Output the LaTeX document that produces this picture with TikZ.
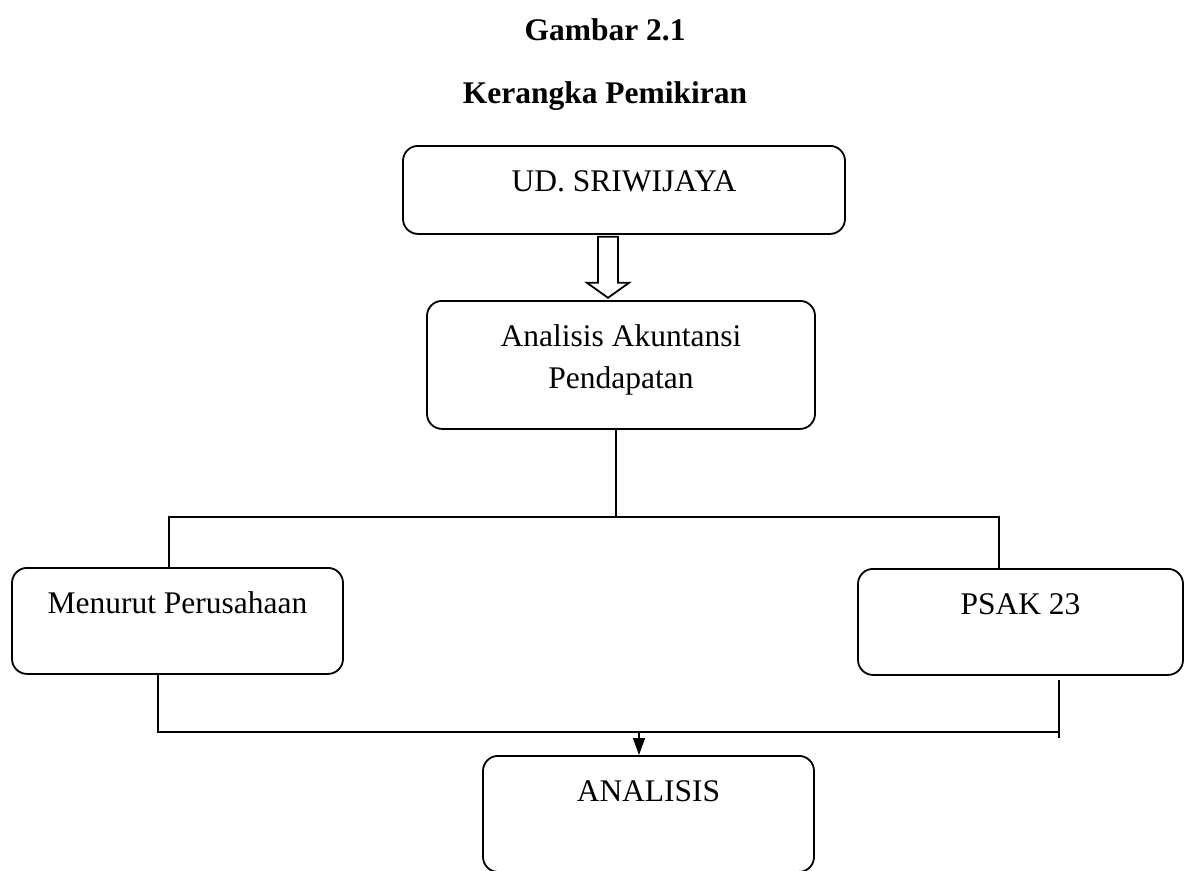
\documentclass[tikz,border=0pt]{standalone}
\usepackage{fontspec}
\setmainfont{Liberation Serif}
\usetikzlibrary{arrows.meta, positioning, calc}

\tikzset{
    kotak/.style={draw, line width=1.8pt, rounded corners=15pt, inner xsep=0pt, inner ysep=0pt,
        anchor=north, text height=46pt, font=\fontsize{31.5}{42}\selectfont},
    garis/.style={line width=1.4pt},
    judul/.style={anchor=base, font=\fontsize{31.5}{42}\selectfont\bfseries}
}

\begin{document}
\begin{tikzpicture}[x=1pt, y=-1pt]
    \useasboundingbox (0,0) rectangle (1185,870);

    % Judul
    \node[judul] (gambar) at (605,40) {Gambar 2.1};
    \node[judul] (kerangka) at (605,103) {Kerangka Pemikiran};

    % Kotak
    \node[kotak, minimum width=442pt, text depth=42pt] (sri) at (624,145) {UD. SRIWIJAYA};
    \node[kotak, minimum width=388pt, text depth=82pt] (akun) at (621,300)
        {\begin{tabular}[t]{@{}c@{}}Analisis Akuntansi\\Pendapatan\end{tabular}};
    \node[kotak, minimum width=331pt, text depth=60pt] (menurut) at (177.5,567) {Menurut Perusahaan};
    \node[kotak, minimum width=325pt, text depth=60pt] (psak) at (1020.5,568) {PSAK 23};
    \node[kotak, minimum width=331pt, text depth=70pt] (anal) at (648.5,755) {ANALISIS};

    % Panah kosong
    \coordinate (panah) at ($(sri.south)+(-16,0)$);
    \draw[line width=1.8pt, line join=miter] (panah) ++(-10,2) -- ++(0,46) -- ++(-11,0) -- ++(21,15)
        -- ++(21,-15) -- ++(-11,0) -- ++(0,-46) -- cycle;

    % Cabang
    \coordinate (cabang) at (616,517);
    \coordinate (kiri) at (169,517);
    \coordinate (kanan) at (999,517);
    \draw[garis] (akun.south -| cabang) -- (cabang);
    \draw[garis] (menurut.north -| kiri) -- (kiri) -- (kanan) -- (psak.north -| kanan);

    % Gabung
    \coordinate (bawahkiri) at (158,732);
    \coordinate (bawahkanan) at (1059,732);
    \coordinate (tengah) at (639,732);
    \draw[garis] (menurut.south -| bawahkiri) -- (bawahkiri) -- (bawahkanan);
    \draw[garis] (1059,680) -- (1059,738);
    \draw[garis, -{Triangle[length=17pt, width=12pt]}] (tengah) -- (anal.north -| tengah);
\end{tikzpicture}
\end{document}
